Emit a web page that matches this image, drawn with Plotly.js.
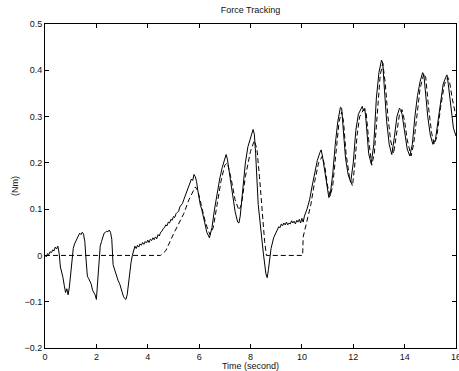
<!DOCTYPE html>
<html>
<head>
<meta charset="utf-8">
<script src="https://cdn.plot.ly/plotly-3.0.1.min.js"></script>
<style>
  html, body { margin: 0; padding: 0; background: #fff; }
  #plot { width: 459px; height: 371px; }
</style>
</head>
<body>
<div id="plot"></div>
<script>
// Measured torque (solid line)
const measuredT = [
  0.00,0.05,0.10,0.15,0.20,0.25,0.30,0.35,0.40,0.45,0.50,0.55,0.60,0.65,0.70,0.75,0.80,0.85,0.90,0.95,
  1.00,1.05,1.10,1.15,1.20,1.25,1.30,1.35,1.40,1.45,1.50,1.55,1.60,1.65,1.70,1.75,1.80,1.85,1.90,1.95,
  2.00,2.05,2.10,2.15,2.20,2.25,2.30,2.35,2.40,2.45,2.50,2.55,2.60,2.65,2.70,2.75,2.80,2.85,2.90,2.95,
  3.00,3.05,3.10,3.15,3.20,3.25,3.30,3.35,3.40,3.45,3.50,3.55,3.60,3.65,3.70,3.75,3.80,3.85,3.90,3.95,
  4.00,4.05,4.10,4.15,4.20,4.25,4.30,4.35,4.40,4.45,4.50,4.55,4.60,4.65,4.70,4.75,4.80,4.85,4.90,4.95,
  5.00,5.05,5.10,5.15,5.20,5.25,5.30,5.35,5.40,5.45,5.50,5.55,5.60,5.65,5.70,5.75,5.80,5.85,5.90,5.95,
  6.00,6.05,6.10,6.20,6.30,6.40,6.50,6.60,6.70,6.80,6.90,7.00,7.05,7.10,7.20,7.30,7.40,7.50,7.55,7.60,
  7.70,7.80,7.90,8.00,8.10,8.15,8.20,8.30,8.40,8.50,8.60,8.65,8.70,8.80,8.90,9.00,9.05,9.10,9.15,9.20,
  9.25,9.30,9.35,9.40,9.45,9.50,9.55,9.60,9.65,9.70,9.75,9.80,9.85,9.90,9.95,10.00,10.05,10.10,10.20,10.30,
  10.40,10.50,10.60,10.70,10.75,10.80,10.90,11.00,11.05,11.10,11.20,11.30,11.40,11.50,11.55,11.60,11.70,11.80,11.90,12.00,
  12.10,12.20,12.30,12.35,12.40,12.45,12.50,12.60,12.70,12.80,12.90,13.00,13.10,13.15,13.20,13.30,13.40,13.50,13.60,13.70,
  13.80,13.85,13.90,14.00,14.10,14.20,14.30,14.40,14.50,14.60,14.70,14.75,14.80,14.90,15.00,15.10,15.20,15.30,15.40,15.50,
  15.60,15.65,15.70,15.80,15.90,16.00
];
const measuredTorque = [
  0.000,-0.003,0.004,0.002,0.008,0.006,0.012,0.010,0.018,0.014,0.020,0.005,-0.025,-0.035,-0.048,-0.065,-0.080,-0.072,-0.085,-0.068,
  -0.040,-0.005,0.015,0.025,0.030,0.036,0.040,0.048,0.045,0.050,0.046,0.030,-0.010,-0.045,-0.050,-0.055,-0.062,-0.075,-0.080,-0.085,
  -0.095,-0.060,-0.010,0.020,0.030,0.040,0.048,0.050,0.052,0.051,0.055,0.050,0.035,-0.020,-0.030,-0.040,-0.050,-0.055,-0.060,-0.070,
  -0.080,-0.088,-0.093,-0.095,-0.085,-0.060,-0.035,-0.015,0.000,0.012,0.020,0.015,0.022,0.018,0.025,0.022,0.028,0.024,0.030,0.027,
  0.033,0.028,0.035,0.032,0.038,0.034,0.040,0.036,0.045,0.042,0.050,0.052,0.058,0.060,0.066,0.064,0.072,0.070,0.078,0.076,
  0.084,0.082,0.090,0.093,0.095,0.105,0.108,0.112,0.120,0.128,0.132,0.142,0.150,0.158,0.165,0.162,0.175,0.170,0.160,0.140,
  0.118,0.108,0.100,0.075,0.050,0.038,0.060,0.100,0.135,0.165,0.190,0.210,0.218,0.208,0.170,0.130,0.095,0.072,0.070,0.085,
  0.150,0.200,0.235,0.255,0.272,0.262,0.220,0.110,0.050,0.005,-0.040,-0.048,-0.030,0.015,0.038,0.050,0.058,0.062,0.060,0.068,
  0.064,0.070,0.066,0.072,0.066,0.070,0.068,0.075,0.070,0.074,0.068,0.076,0.072,0.078,0.070,0.080,0.072,0.085,0.100,0.120,
  0.150,0.180,0.205,0.222,0.228,0.215,0.175,0.140,0.125,0.130,0.175,0.240,0.290,0.320,0.318,0.280,0.210,0.175,0.158,0.200,
  0.270,0.305,0.315,0.322,0.312,0.318,0.290,0.220,0.198,0.240,0.340,0.395,0.422,0.415,0.370,0.290,0.240,0.218,0.255,0.300,
  0.318,0.315,0.305,0.270,0.230,0.215,0.240,0.300,0.345,0.375,0.395,0.390,0.360,0.300,0.260,0.240,0.250,0.290,0.340,0.370,
  0.385,0.390,0.370,0.320,0.275,0.258
];

// Desired torque (dashed line)
const desiredT = [
  0.00,4.50,4.70,5.00,5.40,5.60,5.85,5.95,6.10,6.25,6.42,6.55,6.70,6.85,7.00,7.10,7.25,7.40,7.55,7.65,
  7.80,8.00,8.15,8.25,8.35,8.45,8.55,8.62,10.00,10.03,10.05,10.20,10.35,10.50,10.65,10.80,10.90,11.00,11.10,11.20,
  11.35,11.45,11.55,11.62,11.72,11.85,11.97,12.05,12.15,12.25,12.40,12.50,12.60,12.72,12.82,12.95,13.05,13.15,13.25,13.35,
  13.45,13.57,13.68,13.80,13.90,14.00,14.10,14.25,14.35,14.50,14.60,14.75,14.82,14.95,15.05,15.15,15.25,15.40,15.55,15.68,
  15.75,15.85,16.00
];
const desiredTorque = [
  0.000,0.000,0.010,0.046,0.090,0.120,0.148,0.140,0.105,0.070,0.045,0.060,0.110,0.160,0.195,0.200,0.165,0.120,0.098,0.110,
  0.170,0.225,0.248,0.230,0.170,0.090,0.030,0.000,0.000,0.000,0.040,0.075,0.110,0.160,0.200,0.215,0.190,0.150,0.128,0.150,
  0.240,0.290,0.310,0.290,0.220,0.170,0.150,0.190,0.260,0.300,0.315,0.310,0.250,0.195,0.220,0.330,0.390,0.415,0.370,0.300,
  0.250,0.220,0.260,0.305,0.315,0.290,0.250,0.215,0.240,0.320,0.360,0.393,0.385,0.310,0.265,0.240,0.255,0.320,0.370,0.385,
  0.375,0.340,0.300
];

const xTicks = [0, 2, 4, 6, 8, 10, 12, 14, 16];
const yTicks = [-0.2, -0.1, 0, 0.1, 0.2, 0.3, 0.4, 0.5];

const font = { family: 'Liberation Sans, Arial, sans-serif', size: 9, color: '#111' };

const traces = [
  {
    x: desiredT, y: desiredTorque, type: 'scatter', mode: 'lines',
    line: { color: '#000', width: 1, dash: '5px,3px' },
    hoverinfo: 'skip', showlegend: false
  },
  {
    x: measuredT, y: measuredTorque, type: 'scatter', mode: 'lines',
    line: { color: '#000', width: 1 },
    hoverinfo: 'skip', showlegend: false
  }
];

const axisCommon = {
  showgrid: false, zeroline: false,
  showline: true, linecolor: '#000', linewidth: 1,
  mirror: 'allticks', ticks: 'inside', ticklen: 4, tickwidth: 1, tickcolor: '#000',
  tickfont: font, automargin: false, ticklabeloverflow: 'allow'
};

const layout = {
  width: 459, height: 371,
  margin: { l: 45, r: 3, t: 24, b: 23 },
  paper_bgcolor: '#fff', plot_bgcolor: '#fff',
  font: font,
  title: {
    text: 'Force Tracking', font: font,
    x: 0.5, xref: 'paper', xanchor: 'center',
    y: 1 - 10 / 371, yref: 'container', yanchor: 'middle'
  },
  xaxis: Object.assign({}, axisCommon, {
    range: [0, 16], tickmode: 'array', tickvals: xTicks,
    ticktext: xTicks.map(String),
    title: { text: 'Time (second)', font: font, standoff: 0 }
  }),
  yaxis: Object.assign({}, axisCommon, {
    range: [-0.2, 0.5], tickmode: 'array', tickvals: yTicks,
    ticktext: yTicks.map(v => v === 0 ? '0' : (v < 0 ? '\u2212' + Math.abs(v).toFixed(1) : v.toFixed(1))),
    title: { text: '(Nm)', font: font, standoff: 4 }
  })
};

Plotly.newPlot('plot', traces, layout, { staticPlot: true, displayModeBar: false });
</script>
</body>
</html>
